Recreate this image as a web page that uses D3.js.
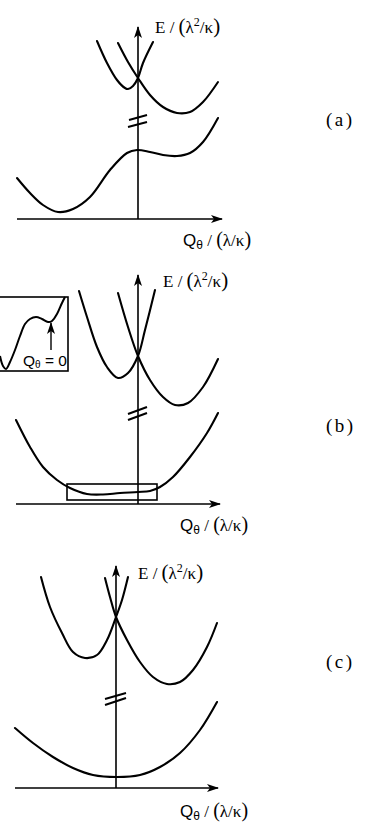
<!DOCTYPE html>
<html>
<head>
<meta charset="utf-8">
<script src="https://cdn.jsdelivr.net/npm/d3@7"></script>
<style>
  html, body { margin: 0; padding: 0; background: #fff; }
  svg { display: block; }
  .serif { font-family: "Liberation Serif", "Times New Roman", serif; }
  .sans { font-family: "Liberation Sans", Arial, sans-serif; }
</style>
</head>
<body>
<svg id="chart" width="365" height="823"></svg>
<script>
// Adiabatic potential energy curves E(Qθ) for three coupling regimes.
// Units: Qθ in λ/κ, E in λ²/κ (arbitrary diagram units).

// ---- Panel (a) ----
const aUpperLeft  = [[-4.1,17.8],[-3.1,15.6],[-2.1,13.9],[-1.3,13.1],[-1.0,13.0],[-0.5,13.3],[0,14.1],[0.5,15.6],[1.5,17.7]];
const aUpperRight = [[-2.0,17.6],[-1.0,15.7],[0,14.1],[1.2,12.4],[2.5,11.2],[3.9,10.6],[5.2,10.7],[6.5,11.7],[8.0,13.7]];
const aLower      = [[-12.1,4.1],[-10.8,2.6],[-9.5,1.4],[-8.0,0.7],[-6.5,1.0],[-4.8,2.2],[-2.8,4.9],[-1.1,6.6],[-0.1,6.9],[1.2,6.7],[2.5,6.4],[3.9,6.3],[5.2,6.6],[6.5,7.7],[8.0,10.1]];
const aBreak      = [[[-0.9,9.9],[0.9,10.4]], [[-1.0,9.2],[0.9,9.7]]];
const aQRange = [-12.1, 8.4];
const aETop = 19.2;

// ---- Panel (b) ----
const bUpperLeft  = [[-5.9,21.3],[-5.1,18.7],[-4.1,15.7],[-3.1,13.7],[-2.0,12.6],[-1.0,13.1],[0,14.8],[0.7,17.4],[1.7,21.4]];
const bUpperRight = [[-2.0,21.1],[-1.0,17.7],[0,14.8],[1.2,12.4],[2.5,10.7],[3.7,9.9],[5.0,10.1],[6.5,11.7],[8.0,14.5]];
const bLower      = [[-12.2,8.4],[-10.8,5.7],[-9.5,3.7],[-8.1,2.4],[-6.8,1.6],[-5.1,1.0],[-3.5,0.95],[-1.8,1.1],[0,1.2],[1.2,1.3],[2.2,1.7],[3.5,2.7],[5.2,4.7],[6.9,7.1],[8.0,9.1]];
const bBreak      = [[[-1.0,9.0],[0.9,9.7]], [[-1.0,8.4],[0.9,9.1]]];
const bZoomBox    = [[-7.1,2.0],[1.9,0.4]];
const bQRange = [-12.2, 8.2];
const bETop = 22.9;

// Inset of panel (b): magnified bottom of the lower curve
const insetCurve = [[0,15],[3,5],[6,2],[10,9],[15,21],[20,35],[25,47],[30,52],[36,54],[42,52],[48,49],[52,50],[57,57],[62,68],[65,74]];
const insetMarkQ = 51;          // position of Qθ = 0 inside the inset
const insetMarkE = [21, 48];    // arrow tail / tip heights

// ---- Panel (c) ----
const cUpperLeft  = [[-7.5,21.1],[-6.6,18.1],[-5.4,15.5],[-4.3,13.6],[-3.1,13.0],[-1.9,13.3],[-0.9,14.8],[0,17.1],[0.6,18.8],[1.2,21.1]];
const cUpperRight = [[-1.1,21.0],[-0.6,19.1],[0,17.1],[1.1,14.8],[2.4,12.6],[3.7,11.1],[5.1,10.4],[6.4,10.6],[7.7,11.8],[9.1,14.1],[10.1,16.5]];
const cLower      = [[-10.1,6.0],[-8.3,4.5],[-6.3,3.1],[-4.3,2.0],[-2.3,1.3],[0.1,1.1],[2.4,1.3],[4.4,2.1],[6.4,3.5],[8.4,5.8],[10.1,8.6]];
const cBreak      = [[[-1.1,8.9],[1.0,9.5]], [[-1.1,8.3],[1.0,9.0]]];
const cQRange = [-10.1, 10.2];
const cETop = 22.2;

const panelLabels = ["(a)", "(b)", "(c)"];

const svg = d3.select("#chart");

// arrowhead marker
svg.append("defs").append("marker")
  .attr("id", "arrow")
  .attr("viewBox", "0 0 12 10")
  .attr("refX", 11).attr("refY", 5)
  .attr("markerWidth", 12).attr("markerHeight", 10)
  .attr("markerUnits", "userSpaceOnUse")
  .attr("orient", "auto")
  .append("path").attr("d", "M0,1 L12,5 L0,9 L3,5 Z").attr("fill", "#000");

const lineGen = (x, y) => d3.line().x(d => x(d[0])).y(d => y(d[1])).curve(d3.curveCatmullRom.alpha(0.5));

function drawPanel(cfg) {
  const g = svg.append("g");
  const x = d3.scaleLinear().domain([0, 10]).range([cfg.ox, cfg.ox + 100]);
  const y = d3.scaleLinear().domain([0, 10]).range([cfg.oy, cfg.oy - 100]);
  const line = lineGen(x, y);

  // axes
  g.append("line")
    .attr("x1", x(cfg.qRange[0])).attr("x2", x(cfg.qRange[1]))
    .attr("y1", y(0)).attr("y2", y(0))
    .attr("stroke", "#000").attr("stroke-width", 1.6)
    .attr("marker-end", "url(#arrow)");
  g.append("line")
    .attr("x1", x(0)).attr("x2", x(0))
    .attr("y1", y(0)).attr("y2", y(cfg.eTop))
    .attr("stroke", "#000").attr("stroke-width", 1.6)
    .attr("marker-end", "url(#arrow)");

  // curves
  [cfg.upperLeft, cfg.upperRight, cfg.lower].forEach(c => {
    g.append("path").attr("d", line(c))
      .attr("fill", "none").attr("stroke", "#000")
      .attr("stroke-width", 2.1).attr("stroke-linecap", "round");
  });

  // axis break mark
  cfg.brk.forEach(s => {
    g.append("line")
      .attr("x1", x(s[0][0])).attr("y1", y(s[0][1]))
      .attr("x2", x(s[1][0])).attr("y2", y(s[1][1]))
      .attr("stroke", "#000").attr("stroke-width", 2);
  });

  // E label
  const e = g.append("text").attr("class", "serif")
    .attr("x", cfg.eLabel[0]).attr("y", cfg.eLabel[1])
    .attr("font-size", 17).attr("fill", "#000");
  e.append("tspan").text("E / ");
  e.append("tspan").attr("font-size", 21).attr("font-weight", 300).text("(");
  e.append("tspan").text("λ");
  e.append("tspan").attr("font-size", 12).attr("dy", -7).text("2");
  e.append("tspan").attr("dy", 7).text("/κ");
  e.append("tspan").attr("font-size", 21).attr("font-weight", 300).text(")");

  // Q label
  const q = g.append("text")
    .attr("x", cfg.qLabel[0]).attr("y", cfg.qLabel[1])
    .attr("font-size", 17).attr("fill", "#000");
  q.append("tspan").attr("class", "sans").text("Q");
  q.append("tspan").attr("class", "sans").attr("font-size", 12).attr("dy", 3).text("θ");
  q.append("tspan").attr("class", "serif").attr("dy", -3).text(" / ");
  q.append("tspan").attr("class", "serif").attr("font-size", 20).attr("font-weight", 300).text("(");
  q.append("tspan").attr("class", "serif").text("λ/κ");
  q.append("tspan").attr("class", "serif").attr("font-size", 20).attr("font-weight", 300).text(")");

  // panel tag
  g.append("text").attr("class", "serif")
    .attr("x", 326).attr("y", cfg.tagY)
    .attr("font-size", 19).attr("letter-spacing", 2.5)
    .text(cfg.tag);

  return { g, x, y };
}

drawPanel({
  ox: 138, oy: 219, qRange: aQRange, eTop: aETop,
  upperLeft: aUpperLeft, upperRight: aUpperRight, lower: aLower, brk: aBreak,
  eLabel: [155, 33], qLabel: [183, 246], tagY: 126, tag: panelLabels[0]
});

const pb = drawPanel({
  ox: 138, oy: 504, qRange: bQRange, eTop: bETop,
  upperLeft: bUpperLeft, upperRight: bUpperRight, lower: bLower, brk: bBreak,
  eLabel: [163, 287], qLabel: [180, 531], tagY: 432, tag: panelLabels[1]
});

// zoom box on the flat bottom of panel (b)
pb.g.append("rect")
  .attr("x", pb.x(bZoomBox[0][0])).attr("y", pb.y(bZoomBox[0][1]))
  .attr("width", pb.x(bZoomBox[1][0]) - pb.x(bZoomBox[0][0]))
  .attr("height", pb.y(bZoomBox[1][1]) - pb.y(bZoomBox[0][1]))
  .attr("fill", "none").attr("stroke", "#000").attr("stroke-width", 1.6);

// inset
const ix = d3.scaleLinear().domain([0, 68]).range([0, 68]);
const iy = d3.scaleLinear().domain([0, 74]).range([371, 297]);
const ins = svg.append("g");
ins.append("rect")
  .attr("x", -2).attr("y", iy(74))
  .attr("width", ix(68) + 2).attr("height", iy(0) - iy(74))
  .attr("fill", "#fff").attr("stroke", "#000").attr("stroke-width", 1.6);
ins.append("path").attr("d", lineGen(ix, iy)(insetCurve))
  .attr("fill", "none").attr("stroke", "#000").attr("stroke-width", 2);
ins.append("line")
  .attr("x1", ix(insetMarkQ)).attr("x2", ix(insetMarkQ))
  .attr("y1", iy(insetMarkE[0])).attr("y2", iy(insetMarkE[1]))
  .attr("stroke", "#000").attr("stroke-width", 1.4)
  .attr("marker-end", "url(#arrow)");
const it = ins.append("text").attr("class", "sans")
  .attr("x", 23).attr("y", 366).attr("font-size", 15.5);
it.append("tspan").text("Q");
it.append("tspan").attr("font-size", 10).attr("dy", 2).text("θ");
it.append("tspan").attr("dy", -2).text(" = 0");

drawPanel({
  ox: 116, oy: 788, qRange: cQRange, eTop: cETop,
  upperLeft: cUpperLeft, upperRight: cUpperRight, lower: cLower, brk: cBreak,
  eLabel: [138, 579], qLabel: [180, 817], tagY: 668, tag: panelLabels[2]
});
</script>
</body>
</html>
